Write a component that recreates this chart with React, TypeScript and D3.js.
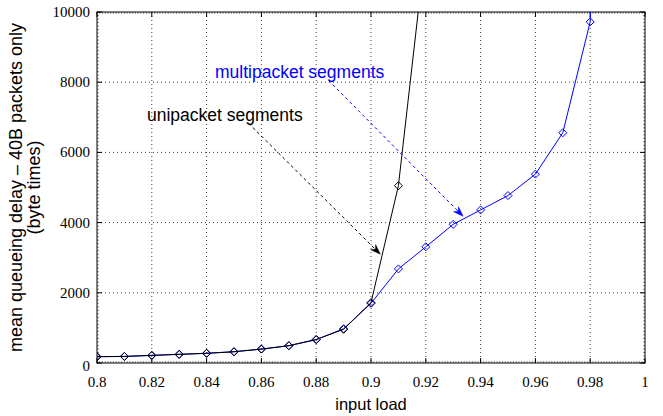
import React from "react";
import * as d3 from "d3";

const loadsBlack = [0.8, 0.81, 0.82, 0.83, 0.84, 0.85, 0.86, 0.87, 0.88, 0.89, 0.9, 0.91, 0.92];
const delayBlack = [180, 185, 215, 245, 275, 320, 395, 495, 670, 960, 1720, 5050, 11900];
const loadsBlue = [0.8, 0.81, 0.82, 0.83, 0.84, 0.85, 0.86, 0.87, 0.88, 0.89, 0.9, 0.91, 0.92, 0.93, 0.94, 0.95, 0.96, 0.97, 0.98, 0.99];
const delayBlue = [180, 190, 220, 248, 278, 322, 398, 490, 665, 975, 1700, 2680, 3310, 3950, 4360, 4770, 5380, 6560, 9720, 50000];
const xTicks = [0.8, 0.82, 0.84, 0.86, 0.88, 0.9, 0.92, 0.94, 0.96, 0.98, 1];
const yTicks = [0, 2000, 4000, 6000, 8000, 10000];
const annotations = [
  { text: "multipacket segments", color: "#0000ff", tx: 215, ty: 78, x1: 0.8845, y1: 8050, x2: 0.9336, y2: 4180 },
  { text: "unipacket segments", color: "#000000", tx: 147, ty: 121, x1: 0.8553, y1: 6830, x2: 0.9034, y2: 3100 },
];

const W = 663, H = 416;
const L = 97, R = 645, T = 12, B = 363;

function arrowHead(x1: number, y1: number, x2: number, y2: number, len = 10, wid = 7) {
  const dx = x2 - x1, dy = y2 - y1;
  const d = Math.hypot(dx, dy);
  const ux = dx / d, uy = dy / d;
  const px = -uy, py = ux;
  const bx = x2 - ux * len, by = y2 - uy * len;
  const nx = x2 - ux * len * 0.7, ny = y2 - uy * len * 0.7;
  return `M${x2},${y2}L${bx + px * wid / 2},${by + py * wid / 2}L${nx},${ny}L${bx - px * wid / 2},${by - py * wid / 2}Z`;
}

export default function App() {
  const x = d3.scaleLinear().domain([0.8, 1]).range([L, R]);
  const y = d3.scaleLinear().domain([0, 10000]).range([B, T]);
  const line = d3.line<[number, number]>().x((d) => x(d[0])).y((d) => y(d[1]));
  const black: [number, number][] = loadsBlack.map((l, i) => [l, delayBlack[i]]);
  const blue: [number, number][] = loadsBlue.map((l, i) => [l, delayBlue[i]]);
  const minorX = d3.range(0, 201).map((i) => 0.8 + i * 0.001);
  const minorY = d3.range(0, 101).map((i) => i * 100);
  const diamond = (cx: number, cy: number, r = 4) => `M${cx},${cy - r}L${cx + r},${cy}L${cx},${cy + r}L${cx - r},${cy}Z`;
  const serif = "'Liberation Serif', 'Times New Roman', Times, 'DejaVu Serif', 'Noto Serif', 'Noto Serif CJK SC', serif";
  const sans = "'Liberation Sans', Arial, sans-serif";
  const serifStyle = { fontFamily: serif, fontSize: "15px" };
  const sansStyle = (s: number) => ({ fontFamily: sans, fontSize: s + "px" });

  return (
    <svg width={W} height={H} style={{ position: "absolute", left: 0, top: 0, background: "#fff" }}>
      <defs>
        <clipPath id="plot">
          <rect x={L} y={T} width={R - L} height={B - T} />
        </clipPath>
      </defs>
      <rect width={W} height={H} fill="#fff" />
      <g stroke="#000" strokeWidth={1} strokeDasharray="1,3" opacity={0.75}>
        {xTicks.slice(1, -1).map((t) => (
          <line key={"gx" + t} x1={x(t)} x2={x(t)} y1={T} y2={B} />
        ))}
        {yTicks.slice(1, -1).map((t) => (
          <line key={"gy" + t} x1={L} x2={R} y1={y(t)} y2={y(t)} />
        ))}
      </g>
      <g stroke="#000" strokeWidth={0.8} opacity={0.55}>
        {minorX.map((t, i) => (
          <g key={"mx" + i}>
            <line x1={x(t)} x2={x(t)} y1={B} y2={B - 2} />
            <line x1={x(t)} x2={x(t)} y1={T} y2={T + 2} />
          </g>
        ))}
        {minorY.map((t, i) => (
          <g key={"my" + i}>
            <line x1={L} x2={L + 2} y1={y(t)} y2={y(t)} />
            <line x1={R} x2={R - 2} y1={y(t)} y2={y(t)} />
          </g>
        ))}
      </g>
      <g stroke="#000" strokeWidth={1}>
        {xTicks.map((t) => (
          <g key={"tx" + t}>
            <line x1={x(t)} x2={x(t)} y1={B} y2={B - 5} />
            <line x1={x(t)} x2={x(t)} y1={T} y2={T + 5} />
          </g>
        ))}
        {yTicks.map((t) => (
          <g key={"ty" + t}>
            <line x1={L} x2={L + 5} y1={y(t)} y2={y(t)} />
            <line x1={R} x2={R - 5} y1={y(t)} y2={y(t)} />
          </g>
        ))}
      </g>
      <rect x={L} y={T} width={R - L} height={B - T} fill="none" stroke="#000" strokeWidth={1} />
      <g clipPath="url(#plot)">
        <path d={line(blue) || ""} fill="none" stroke="#0000ff" strokeWidth={1} />
        {blue.map((d, i) => (
          <path key={"bm" + i} d={diamond(x(d[0]), y(d[1]))} fill="none" stroke="#0000ff" strokeWidth={1} />
        ))}
        <path d={line(black) || ""} fill="none" stroke="#000" strokeWidth={1} />
        {black.map((d, i) => (
          <path key={"km" + i} d={diamond(x(d[0]), y(d[1]))} fill="none" stroke="#000" strokeWidth={1} />
        ))}
      </g>
      {annotations.map((a, i) => {
        const ax1 = x(a.x1), ay1 = y(a.y1), ax2 = x(a.x2), ay2 = y(a.y2);
        const d = Math.hypot(ax2 - ax1, ay2 - ay1);
        const sx = ax2 - ((ax2 - ax1) / d) * 7, sy = ay2 - ((ay2 - ay1) / d) * 7;
        return (
          <g key={"an" + i}>
            <line x1={ax1} y1={ay1} x2={sx} y2={sy} stroke={a.color} strokeWidth={1} strokeDasharray="3,3" />
            <path d={arrowHead(ax1, ay1, ax2, ay2)} fill={a.color} stroke={a.color} strokeWidth={0.5} />
            <text x={a.tx} y={a.ty} fill={a.color} style={sansStyle(17.5)}>
              {a.text}
            </text>
          </g>
        );
      })}
      <g fill="#000">
        {xTicks.map((t) => (
          <text key={"lx" + t} x={x(t)} y={387} textAnchor="middle" style={serifStyle}>
            {d3.format("")(+t.toFixed(2))}
          </text>
        ))}
        {yTicks.map((t) => (
          <text key={"ly" + t} x={90} y={t === 0 ? y(t) + 8 : y(t) + 5} textAnchor="end" style={serifStyle}>
            {t}
          </text>
        ))}
      </g>
      <text x={371} y={410} textAnchor="middle" fill="#000" style={sansStyle(16.5)}>
        input load
      </text>
      <g transform={`translate(0, ${(T + B) / 2}) rotate(-90)`} fill="#000">
        <text x={0} y={22} textAnchor="middle" style={sansStyle(18)}>mean queueing delay – 40B packets only</text>
        <text x={0} y={40} textAnchor="middle" style={sansStyle(18)}>(byte times)</text>
      </g>
    </svg>
  );
}
